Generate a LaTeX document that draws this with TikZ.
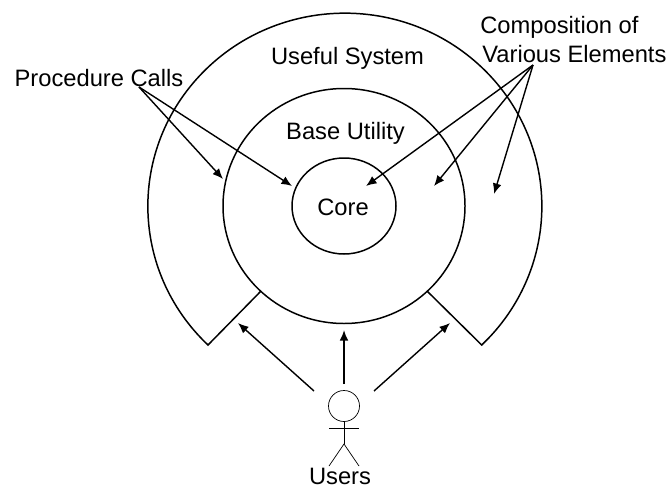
\documentclass[tikz,border=0pt]{standalone}
\usepackage{fontspec}
\setmainfont{Liberation Sans}
\usetikzlibrary{shapes.geometric,arrows.meta}
\begin{document}
\begin{tikzpicture}[x=0.02cm,y=0.02cm,font=\fontsize{13.5}{16}\selectfont,
    line/.style={line width=0.85pt},
    ring/.style={ellipse,draw,line width=0.85pt,inner sep=0pt},
    call/.style={line width=0.8pt,-{Latex[length=6pt,width=5pt]}},
    thin line/.style={line width=0.4pt},
    lbl/.style={inner sep=0pt,anchor=base}]
            \useasboundingbox (0,0) rectangle (669,488);
            \coordinate (mid) at (344,282);
            \node[ring,minimum width=242*0.02cm,minimum height=235*0.02cm] (base) at (mid) {};
            \node[ring,minimum width=104*0.02cm,minimum height=96*0.02cm] (core) at (mid) {};
            \node[lbl] (corelbl) at (343,273) {Core};
            \coordinate (outerl) at (208,143);
            \coordinate (outerr) at (480,143);
            \coordinate (basel) at (261,197);
            \coordinate (baser) at (427,197);
            \draw[line] (basel)--(outerl) arc[start angle=226,end angle=-46,x radius=197,y radius=193]--(baser);

            \node[lbl] (useful) at (347.5,424) {Useful System};
            \node[lbl] (utility) at (345.5,349) {Base Utility};
            \node[lbl] (calls) at (99,402) {Procedure Calls};
            \node[lbl,anchor=base west] (comp) at (480,454.5) {Composition of};
            \node[lbl,anchor=base west] (various) at (482,426) {Various Elements};
            \node[lbl] (users) at (340,4) {Users};

            \coordinate (callfrom) at (139,401);
            \coordinate (callbase) at (223,309);
            \coordinate (callcore) at (292,302);
            \draw[call] (callfrom)--(callbase);
            \draw[call] (callfrom)--(callcore);

            \coordinate (compfrom) at (533,423);
            \coordinate (compcore) at (366,302);
            \coordinate (compbase) at (434,302);
            \coordinate (compouter) at (494,294);
            \draw[call] (compfrom)--(compcore);
            \draw[call] (compfrom)--(compbase);
            \draw[call] (compfrom)--(compouter);

            \node[circle,draw,thin line,minimum size=31*0.02cm,inner sep=0pt] (head) at (344,82) {};
            \coordinate (hip) at (344,44);
            \draw[thin line] (head.south)--(hip);
            \coordinate (arml) at (329,60);
            \coordinate (armr) at (359,60);
            \draw[thin line] (arml)--(armr);
            \coordinate (legl) at (329,22);
            \coordinate (legr) at (359,22);
            \draw[thin line] (legl)--(hip)--(legr);

            \coordinate (userl) at (314,97);
            \coordinate (userm) at (344,104);
            \coordinate (userr) at (374,97);
            \coordinate (gapl) at (238,165);
            \coordinate (gapm) at (344,158);
            \coordinate (gapr) at (450,165);
            \draw[call] (userl)--(gapl);
            \draw[call,line width=1pt] (userm)--(gapm);
            \draw[call] (userr)--(gapr);
        \end{tikzpicture}
\end{document}
